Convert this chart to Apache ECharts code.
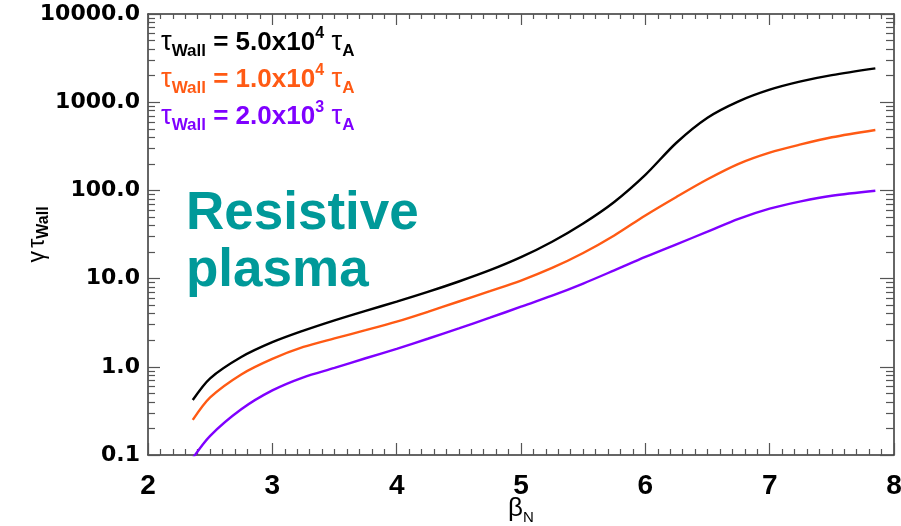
<!DOCTYPE html>
<html><head><meta charset="utf-8">
<script src="https://cdn.jsdelivr.net/npm/echarts@6/dist/echarts.min.js"></script>
<style>html,body{margin:0;padding:0;background:#fff}#c{width:901px;height:526px}</style>
</head><body><div id="c"></div>
<script>
const betaN = [2.36, 2.5, 2.75, 3.0, 3.25, 3.5, 3.75, 4.0, 4.25, 4.5, 4.75, 5.0, 5.25, 5.5, 5.75, 6.0, 6.25, 6.5, 6.75, 7.0, 7.25, 7.5, 7.85];
const wall5e4 = [0.42, 0.74, 1.29, 1.9, 2.57, 3.365, 4.315, 5.48, 7.06, 9.27, 12.45, 17.5, 26.2, 42.2, 74, 150, 347, 667, 1023, 1387, 1722, 2028, 2420];
const wall1e4 = [0.25, 0.45, 0.82, 1.23, 1.68, 2.1, 2.6, 3.25, 4.2, 5.5, 7.2, 9.5, 13.2, 19.5, 30.8, 52, 84.3, 133.7, 200, 268, 332, 400, 484];
const wall2e3 = [0.092, 0.165, 0.33, 0.54, 0.76, 0.97, 1.25, 1.6, 2.08, 2.73, 3.6, 4.8, 6.4, 8.79, 12.4, 17.6, 24.5, 34, 47.5, 62, 75, 87, 99];
const xTicks = [2, 3, 4, 5, 6, 7, 8];
const yTicks = [0.1, 1, 10, 100, 1000, 10000];
const legendLabels = [
  {mant: '5.0', exp: '4', color: '#000000'},
  {mant: '1.0', exp: '4', color: '#ff5a14'},
  {mant: '2.0', exp: '3', color: '#7f00ff'}
];

const chart = echarts.init(document.getElementById('c'));
const pairs = ys => betaN.map((b, i) => [b, ys[i]]);
const axisLine = {show: true, lineStyle: {color: '#333', width: 1.5}};
const tickStyle = {color: '#555', width: 1.2};
const FONT = '"Liberation Sans", Arial, sans-serif';

function legendText(l) {
  return '{t|τ}{s|Wall}{b| = ' + l.mant + 'x10}{p|' + l.exp + '}{t| τ}{s|A}';
}
function legendRich(color) {
  return {
    t: {fontSize: 27, fontFamily: FONT, color: color, lineHeight: 34, verticalAlign: 'middle'},
    s: {fontSize: 17, fontWeight: 'bold', fontFamily: FONT, color: color, lineHeight: 16, verticalAlign: 'bottom'},
    b: {fontSize: 26, fontWeight: 'bold', fontFamily: FONT, color: color, lineHeight: 34, verticalAlign: 'middle'},
    p: {fontSize: 16, fontWeight: 'bold', fontFamily: FONT, color: color, lineHeight: 16, verticalAlign: 'top'}
  };
}

const graphics = legendLabels.map((l, i) => ({
  type: 'text', left: 161, top: 26 + i * 37,
  style: {text: legendText(l), rich: legendRich(l.color), fill: l.color}
}));
graphics.push({
  type: 'text', left: 186, top: 186,
  style: {text: 'Resistive\nplasma', fill: '#009999', font: 'bold 53px ' + FONT, lineHeight: 57}
});

chart.setOption({
  animation: false,
  backgroundColor: '#fff',
  grid: {left: 148, right: 7, top: 14, bottom: 71, containLabel: false, outerBoundsMode: 'none'},
  xAxis: [{
    type: 'value', min: xTicks[0], max: xTicks[xTicks.length - 1], interval: 1,
    axisLine: axisLine, splitLine: {show: false},
    axisTick: {show: true, inside: true, length: 12, lineStyle: tickStyle},
    minorTick: {show: true, splitNumber: 10, length: 6, lineStyle: tickStyle},
    axisLabel: {margin: 17, color: '#000', fontSize: 28, fontWeight: 'bold', fontFamily: '"Liberation Sans Narrow", ' + FONT},
    name: '{b|β}{n|N}', nameLocation: 'middle', nameGap: 38, nameMoveOverlap: false,
    nameTextStyle: {rich: {
      b: {fontSize: 26, fontFamily: FONT, color: '#000', lineHeight: 32, verticalAlign: 'middle'},
      n: {fontSize: 15, fontFamily: FONT, color: '#000', lineHeight: 14, verticalAlign: 'bottom'}
    }}
  }, {
    type: 'value', position: 'top', min: xTicks[0], max: xTicks[xTicks.length - 1], interval: 1,
    axisLine: axisLine, splitLine: {show: false}, axisLabel: {show: false},
    axisTick: {show: true, inside: true, length: 11, lineStyle: tickStyle},
    minorTick: {show: true, splitNumber: 10, length: 5, lineStyle: tickStyle}
  }],
  yAxis: [{
    type: 'log', logBase: 10, min: yTicks[0], max: yTicks[yTicks.length - 1],
    axisLine: axisLine, splitLine: {show: false},
    axisTick: {show: true, inside: true, length: 12, lineStyle: tickStyle},
    minorTick: {show: true, splitNumber: 9, length: 7, lineStyle: tickStyle},
    axisLabel: {margin: 8, color: '#000', fontSize: 22, fontWeight: 'bold', fontFamily: '"DejaVu Sans", ' + FONT,
      formatter: v => Number(v).toFixed(1)},
    name: '{g|γ} {t|τ}{s|Wall}', nameLocation: 'middle', nameRotate: 90, nameGap: 96, nameMoveOverlap: false,
    nameTextStyle: {rich: {
      g: {fontSize: 23, fontFamily: FONT, color: '#000', lineHeight: 28, verticalAlign: 'middle'},
      t: {fontSize: 23, fontFamily: FONT, color: '#000', lineHeight: 28, verticalAlign: 'middle'},
      s: {fontSize: 16, fontWeight: 'bold', fontFamily: FONT, color: '#000', lineHeight: 14, verticalAlign: 'bottom'}
    }}
  }, {
    type: 'log', logBase: 10, position: 'right', min: yTicks[0], max: yTicks[yTicks.length - 1],
    axisLine: axisLine, splitLine: {show: false}, axisLabel: {show: false},
    axisTick: {show: true, inside: true, length: 14, lineStyle: tickStyle},
    minorTick: {show: true, splitNumber: 9, length: 8, lineStyle: tickStyle}
  }],
  series: [
    {type: 'line', data: pairs(wall5e4), smooth: 0.3, showSymbol: false, clip: true, lineStyle: {color: '#000', width: 2.4}},
    {type: 'line', data: pairs(wall1e4), smooth: 0.3, showSymbol: false, clip: true, lineStyle: {color: '#ff5a14', width: 2.4}},
    {type: 'line', data: pairs(wall2e3), smooth: 0.3, showSymbol: false, clip: true, lineStyle: {color: '#7f00ff', width: 2.4}}
  ],
  graphic: graphics
});
</script>
</body></html>
